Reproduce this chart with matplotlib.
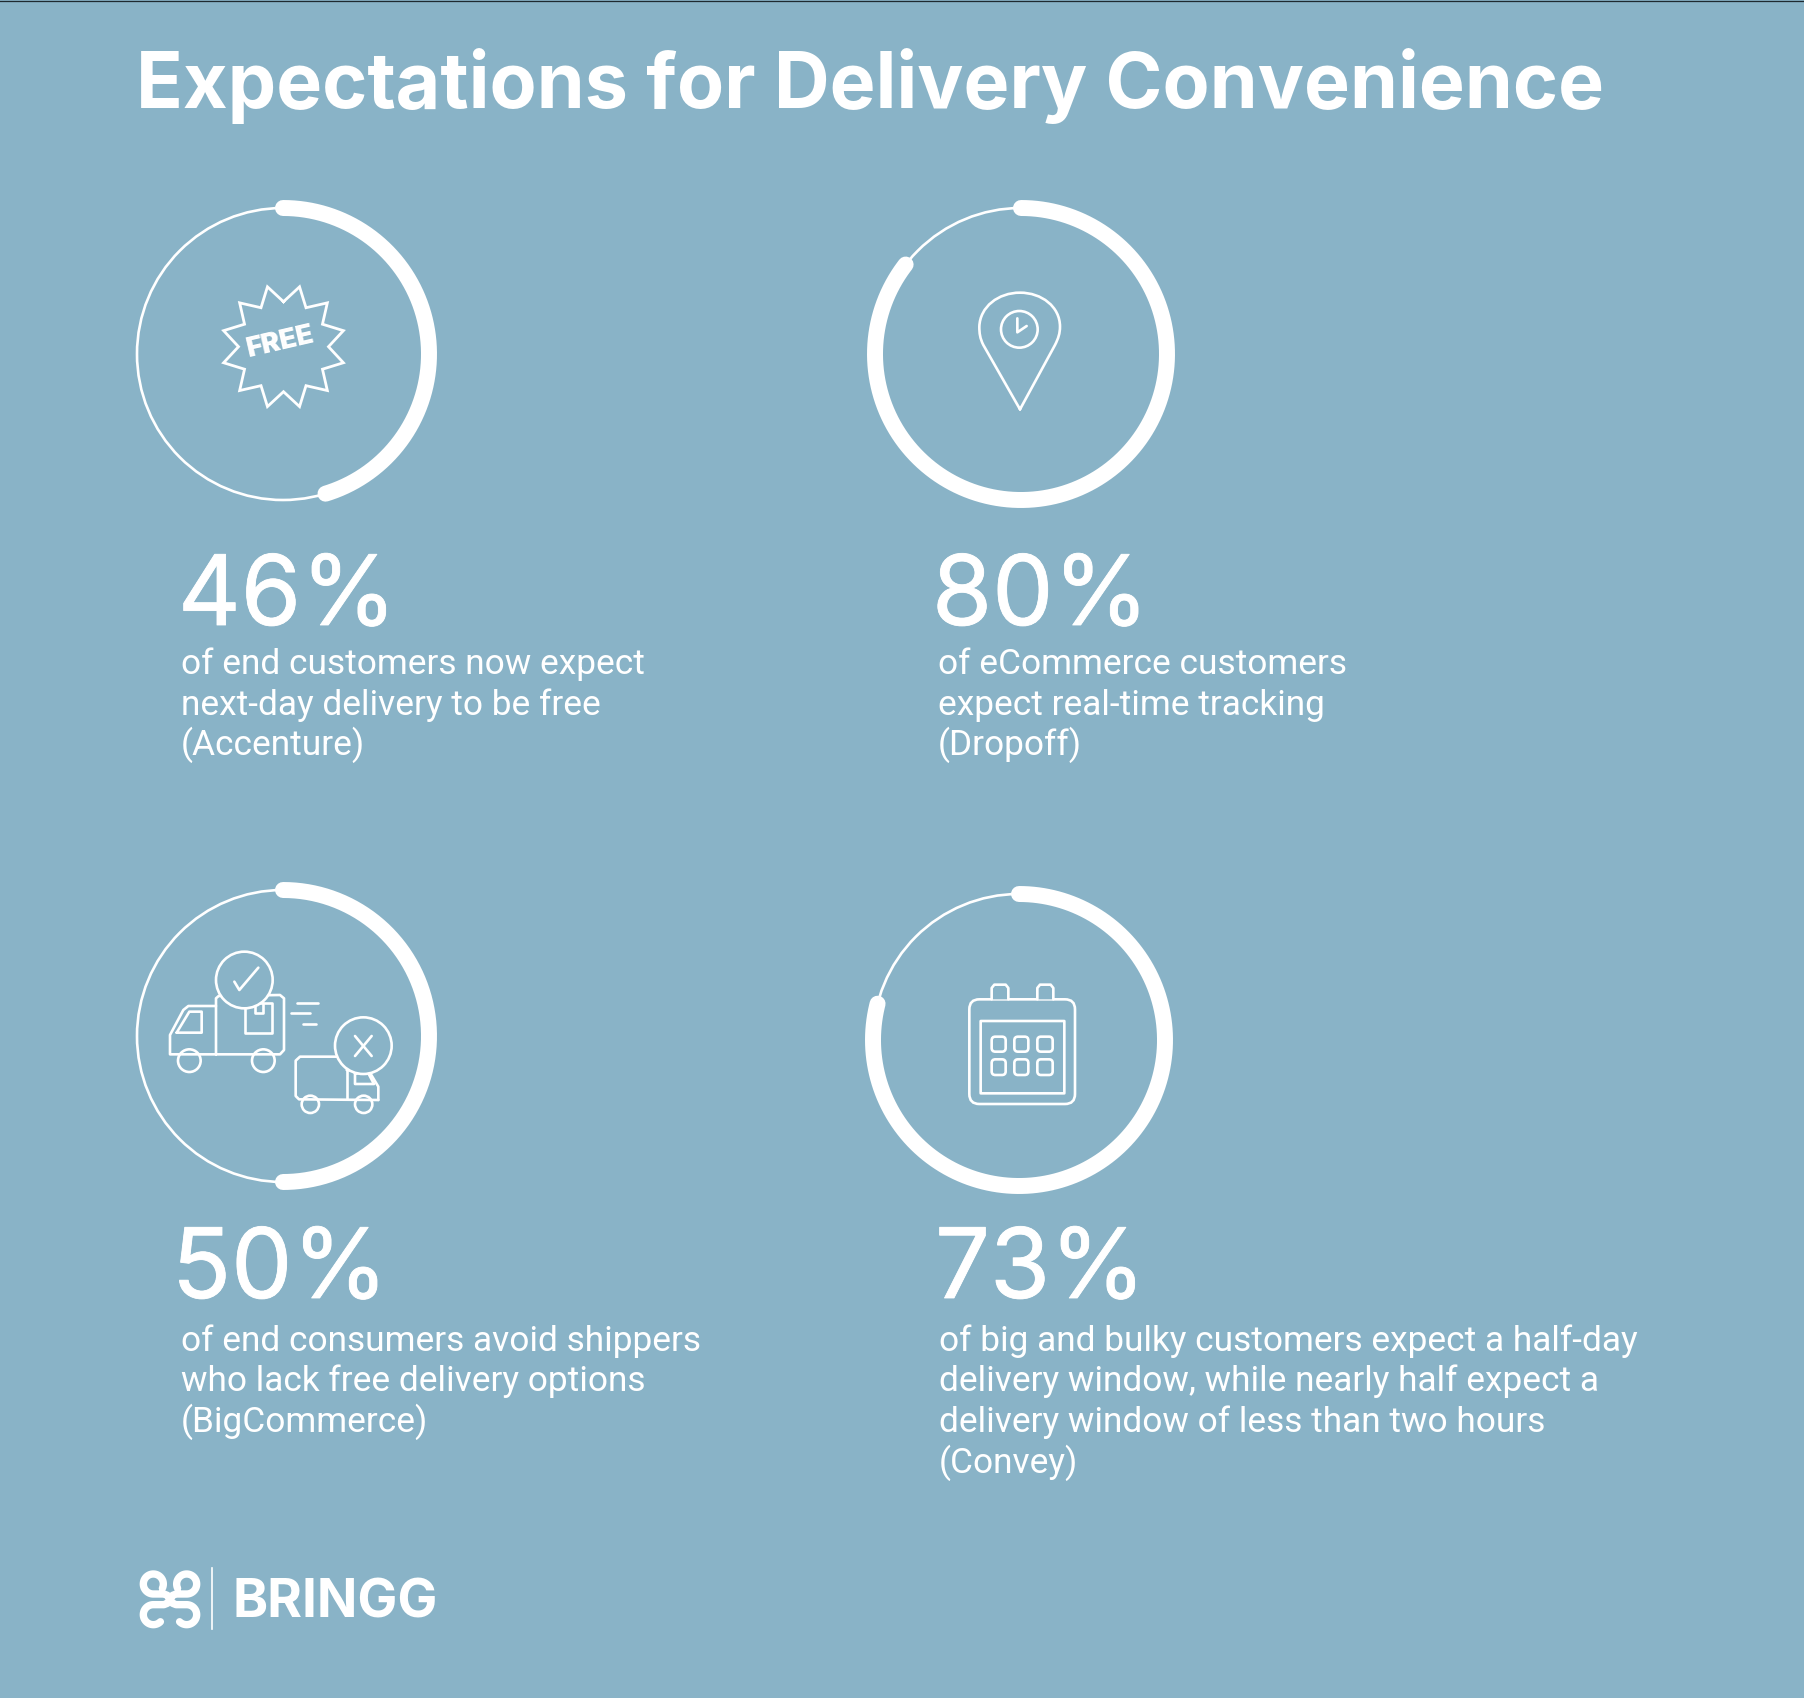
import numpy as np
import matplotlib
matplotlib.use("Agg")
import matplotlib.pyplot as plt
import matplotlib.patheffects as pe
from matplotlib.patches import Circle, FancyBboxPatch, PathPatch
from matplotlib.path import Path

BG = "#89B3C7"
WHITE = "#FFFFFF"
FONT = "Roboto"
WIDE_FONT = "Inter"

title = "Expectations for Delivery Convenience"
percent_labels = ["46%", "80%", "50%", "73%"]
# how far round each thick arc goes (clockwise from the top)
arc_fractions = [0.453, 0.855, 0.50, 0.79]
descriptions = [
    ["of end customers now expect", "next-day delivery to be free", "(Accenture)"],
    ["of eCommerce customers", "expect real-time tracking", "(Dropoff)"],
    ["of end consumers avoid shippers", "who lack free delivery options", "(BigCommerce)"],
    ["of big and bulky customers expect a half-day",
     "delivery window, while nearly half expect a",
     "delivery window of less than two hours",
     "(Convey)"],
]
brand = "BRINGG"

circle_centers = [(283, 354), (1021, 354), (283, 1036), (1019, 1040)]
percent_pos = [(178, 625), (932, 625), (172, 1298), (935, 1298)]
text_pos = [(181, 674), (938, 674), (181, 1351), (939, 1351)]

fig = plt.figure(figsize=(18.04, 16.98), dpi=100, facecolor=BG)
ax = fig.add_axes([0, 0, 1, 1])
ax.set_xlim(0, 1804)
ax.set_ylim(1698, 0)
ax.axis("off")

LW = 1.9


def ring(cx, cy, r, fill=BG, lw=LW, z=3):
    ax.add_patch(Circle((cx, cy), r, fc=fill, ec=WHITE, lw=lw, zorder=z))


def line(points, ox=0, oy=0, closed=False, fill=None, lw=LW, z=3):
    # points are in 3x zoomed pixels of the icon
    xy = np.array(points, dtype=float) / 3 + (ox, oy)
    if closed:
        xy = np.vstack([xy, xy[0]])
    if fill:
        ax.fill(xy[:, 0], xy[:, 1], fc=fill, ec="none", zorder=z)
    ax.plot(xy[:, 0], xy[:, 1], color=WHITE, lw=lw, zorder=z + 0.1,
            solid_joinstyle="round", solid_capstyle="round")


def rbox(x0, y0, x1, y1, r, ox=0, oy=0, lw=LW, z=3):
    ax.add_patch(FancyBboxPatch((x0 / 3 + ox + r / 3, y0 / 3 + oy + r / 3),
                                (x1 - x0 - 2 * r) / 3, (y1 - y0 - 2 * r) / 3,
                                boxstyle="round,pad=%f,rounding_size=%f" % (r / 3, r / 3),
                                fc="none", ec=WHITE, lw=lw, zorder=z))


def curve(verts, codes, ox=0, oy=0, lw=LW, z=3):
    xy = np.array(verts, dtype=float) / 3 + (ox, oy)
    ax.add_patch(PathPatch(Path(xy, codes), fc="none", ec=WHITE, lw=lw, zorder=z,
                           capstyle="round", joinstyle="round"))


def logo_loop(flip_x, flip_y, start):
    # one corner of the logo: a ring, a short bar, then a bend into the middle
    t = np.radians(np.linspace(start, -270, 60))
    x = np.r_[70 + 30 * np.cos(t), 102, 112, 120]
    y = np.r_[72 + 30 * np.sin(t), 102, 106, 118]
    if flip_x:
        x = 240 - x
    if flip_y:
        y = 236 - y
    line(np.c_[x, y], 130, 1560, lw=5.3)


# top edge of the picture
ax.plot([0, 1804], [0.5, 0.5], color="#1E2A30", lw=0.9, zorder=6)

# progress rings
for (cx, cy), frac in zip(circle_centers, arc_fractions):
    ax.add_patch(Circle((cx, cy), 146, fc="none", ec=WHITE, lw=LW))
    t = np.radians(np.linspace(0, 360 * frac, 300))
    ax.plot(cx + 146 * np.sin(t), cy - 146 * np.cos(t), color=WHITE, lw=11.5,
            solid_capstyle="round", zorder=2)

# free badge
a = np.radians(np.arange(24) * 15.0)
rad = np.where(np.arange(24) % 2 == 0, 45.0, 62.0)
sx = 283.5 + rad * np.sin(a)
sy = 346.7 - rad * np.cos(a)
ax.plot(np.append(sx, sx[0]), np.append(sy, sy[0]), color=WHITE, lw=2.0,
        solid_joinstyle="miter", zorder=3)
ax.text(281, 342, "FREE", color=WHITE, fontsize=20, family=WIDE_FONT, weight="black",
        rotation=13, rotation_mode="anchor", ha="center", va="center", zorder=4)

# location pin
ox, oy = 930, 270
M, L, C = Path.MOVETO, Path.LINETO, Path.CURVE4
curve([(270, 418), (160, 225), (150, 205), (148, 190), (148, 170),
       (150, 110), (205, 68), (270, 68), (335, 68), (390, 110), (390, 170),
       (390, 190), (385, 205), (375, 225), (270, 418)],
      [M, L, C, C, C, C, C, C, C, C, C, C, C, C, L], ox, oy)
ring(ox + 268 / 3, oy + 178 / 3, 55 / 3)
line([(262, 145), (262, 187), (290, 168)], ox, oy)

# trucks
ox, oy = 120, 870
line([(288, 553), (150, 553), (150, 495), (190, 420), (205, 408), (288, 408)], ox, oy)
line([(288, 553), (288, 385), (296, 378), (480, 375), (492, 385), (492, 540), (480, 553), (288, 553)], ox, oy)
line([(170, 488), (208, 425), (245, 425), (245, 488)], ox, oy, closed=True)
line([(375, 398), (375, 488), (455, 488), (455, 398)], ox, oy, closed=True)
line([(405, 400), (405, 430), (428, 430), (428, 400)], ox, oy)
ring(ox + 208 / 3, oy + 572 / 3, 34 / 3)
ring(ox + 430 / 3, oy + 572 / 3, 34 / 3)
ring(ox + 373 / 3, oy + 330 / 3, 85 / 3, z=4)
line([(343, 335), (358, 360), (415, 293)], ox, oy, z=5)
line([(530, 400), (593, 400)], ox, oy)
line([(513, 430), (570, 430)], ox, oy)
line([(548, 462), (588, 462)], ox, oy)
line([(680, 560), (540, 560), (527, 572), (527, 678), (537, 688), (775, 690)], ox, oy)
line([(680, 560), (680, 688)], ox, oy)
line([(680, 600), (748, 605), (775, 650), (775, 690)], ox, oy)
line([(705, 610), (705, 642), (762, 642), (745, 610)], ox, oy, closed=True)
ring(ox + 571 / 3, oy + 703 / 3, 26 / 3)
ring(ox + 731 / 3, oy + 703 / 3, 26 / 3)
ring(ox + 730 / 3, oy + 527 / 3, 85 / 3, z=4)
line([(705, 498), (755, 558)], ox, oy, z=5)
line([(755, 498), (705, 558)], ox, oy, z=5)

# calendar
ox, oy = 940, 960
rbox(88, 118, 405, 432, 30, ox, oy)
for x0, x1 in [(155, 205), (292, 340)]:
    line([(x0, 118), (x0, 84), (x0 + 8, 74), (x1 - 8, 74), (x1, 84), (x1, 118)], ox, oy, fill=BG, z=4)
rbox(122, 183, 373, 400, 1, ox, oy)
for y0, y1 in [(230, 275), (298, 345)]:
    for x0, x1 in [(155, 197), (223, 265), (292, 338)]:
        rbox(x0, y0, x1, y1, 11, ox, oy)

# title and stats
ax.text(136, 108, title, color=WHITE, fontsize=55.5, family=WIDE_FONT, weight="bold", va="baseline")
for (px, py), (tx, ty), pct, rows in zip(percent_pos, text_pos, percent_labels, descriptions):
    ax.text(px, py, pct, color=WHITE, fontsize=70, family=WIDE_FONT, weight="normal", va="baseline",
            path_effects=[pe.withStroke(linewidth=0.6, foreground=WHITE)])
    for i, row in enumerate(rows):
        ax.text(tx, ty + i * 40.5, row, color=WHITE, fontsize=25.4, family=FONT, va="baseline")

# logo
logo_loop(False, False, 25)
logo_loop(True, False, 25)
logo_loop(False, True, -45)
logo_loop(True, True, -45)
ax.plot([212, 212], [1568, 1629], color=WHITE, lw=1.2)
ax.text(233, 1617, brand, color=WHITE, fontsize=38.3, family=WIDE_FONT, weight="bold", va="baseline")

fig.savefig("out.png", dpi=100, facecolor=BG)
